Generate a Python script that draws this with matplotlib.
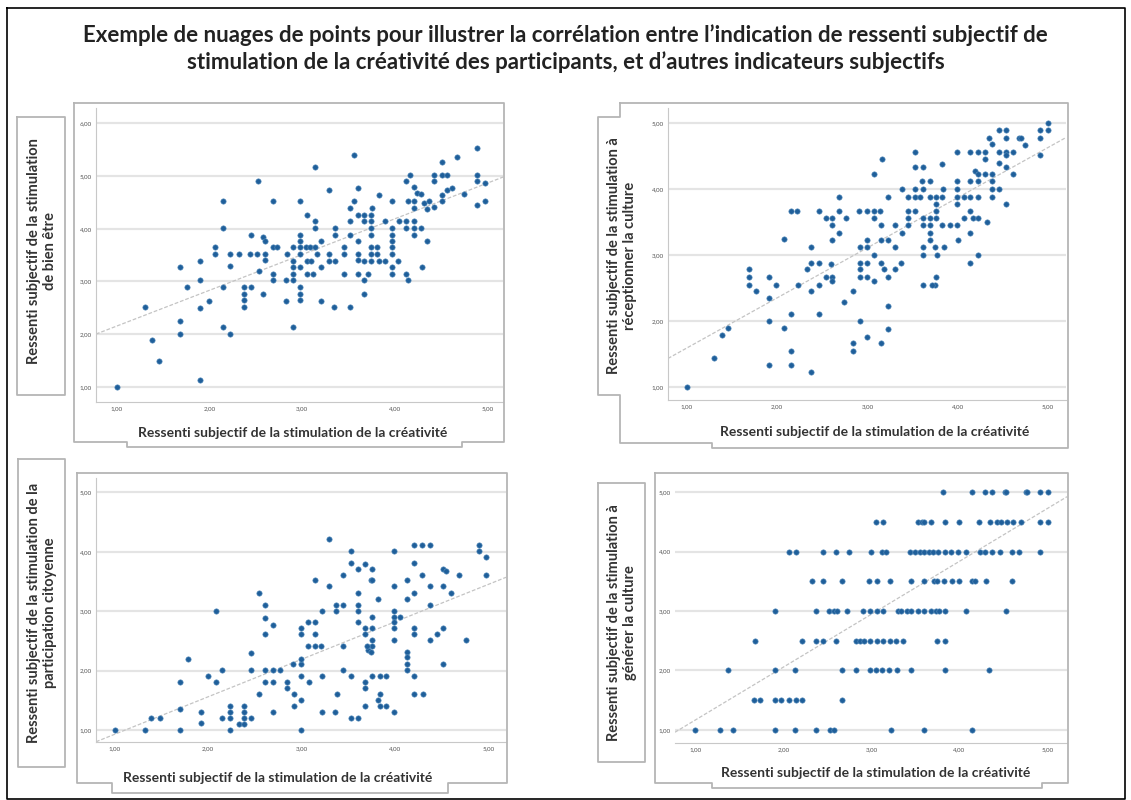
import numpy as np
import matplotlib
matplotlib.use("Agg")
import matplotlib.pyplot as plt
from matplotlib.lines import Line2D

plt.rcParams['font.family'] = ['Lato', 'DejaVu Sans']

W, H = 1131, 800

title = ("Exemple de nuages de points pour illustrer la corrélation entre l\u2019indication de ressenti subjectif de\n"
         "stimulation de la créativité des participants, et d\u2019autres indicateurs subjectifs")
xlabel = "Ressenti subjectif de la stimulation de la créativité"
ylabels = ["Ressenti subjectif de la stimulation\nde bien être",
           "Ressenti subjectif de la stimulation à\nréceptionner la culture",
           "Ressenti subjectif de la stimulation de la\nparticipation citoyenne",
           "Ressenti subjectif de la stimulation à\ngénérer la culture"]

# panel 1 : bien être
x1 = [1.00, 1.30, 1.38, 1.45, 1.68, 1.68, 1.68, 1.76, 1.90, 1.90, 1.90, 1.90, 1.99,
      2.14, 2.14, 2.06, 2.06, 2.14, 2.14, 2.22, 2.22, 2.22, 2.32, 2.37, 2.37, 2.37, 2.37,
      2.44, 2.51, 2.45, 2.45, 2.52, 2.58, 2.60, 2.60, 2.60, 2.58, 2.53, 2.68, 2.68, 2.73, 2.69, 2.69,
      2.84, 2.83, 2.90, 2.83, 2.90, 2.90, 2.90, 2.90, 2.90,
      2.98, 2.98, 2.98, 2.98, 2.98, 2.98, 2.98, 2.98, 2.98,
      3.05, 3.04, 3.09, 3.05, 3.10, 3.05, 3.12,
      3.14, 3.14, 3.14, 3.14, 3.16,
      3.20, 3.20, 3.20, 3.29, 3.29, 3.29,
      3.34, 3.52, 3.36, 3.36, 3.36, 3.45, 3.45, 3.45,
      3.52, 3.52, 3.52, 3.56, 3.56, 3.60,
      3.60, 3.60, 3.60, 3.67, 3.67, 3.60,
      3.60, 3.67, 3.74, 3.67, 3.74, 3.74, 3.74, 3.74, 3.74, 3.74, 3.67, 3.71,
      3.76, 3.81, 3.81, 3.83, 3.83, 3.90,
      3.90, 3.97, 3.97, 3.97, 3.97, 3.97, 3.97, 3.97, 3.97, 4.04,
      4.05, 4.12, 4.21, 4.12, 4.21, 4.28, 4.21, 4.12, 4.14,
      4.14, 4.21, 4.21, 4.30, 4.35,
      4.12, 4.17, 4.21, 4.24,
      4.28, 4.32, 4.35, 4.42, 4.37,
      4.42, 4.42, 4.51, 4.51, 4.57, 4.51, 4.57, 4.62, 4.51,
      4.67, 4.75,
      4.89, 4.89, 4.89, 4.98, 4.89, 4.98]
y1 = [1.00, 2.51, 1.89, 1.50, 3.28, 2.25, 2.00, 2.90, 3.39, 3.03, 2.50, 1.13, 2.63,
      4.53, 4.01, 3.66, 3.52, 2.90, 2.14, 3.52, 3.30, 2.00, 3.52, 2.90, 2.77, 2.65, 2.52,
      3.52, 3.52, 2.90, 3.89, 4.90, 3.85, 3.77, 3.52, 3.40, 2.77, 3.20, 4.53, 3.65, 3.65, 3.14, 3.03,
      3.52, 3.03, 3.03, 2.63, 2.14, 3.65, 3.39, 3.28, 3.15,
      4.53, 3.89, 3.77, 3.66, 3.53, 3.28, 2.90, 2.77, 2.65,
      4.27, 3.65, 3.65, 3.39, 3.39, 3.14, 3.14,
      5.18, 4.15, 4.01, 3.65, 3.52,
      3.77, 3.28, 2.63, 4.73, 3.39, 3.52,
      2.51, 2.51, 4.01, 3.89, 3.39, 3.65, 3.52, 3.14,
      3.89, 4.15, 4.40, 4.53, 5.40, 4.77,
      3.52, 3.40, 3.14, 2.77, 3.03, 3.77,
      4.27, 4.27, 4.27, 4.15, 4.15, 4.01, 3.89, 3.65, 3.52, 3.39, 3.39, 3.14,
      4.40, 3.65, 3.52, 4.64, 3.39, 3.39,
      4.15, 4.53, 4.01, 3.89, 3.77, 3.65, 3.52, 3.28, 3.14, 3.39,
      4.15, 4.15, 4.15, 4.01, 4.01, 4.01, 3.89, 3.14, 3.03,
      4.53, 4.53, 4.40, 3.28, 3.77,
      4.90, 5.02, 4.80, 4.67,
      4.65, 4.49, 4.37, 4.41, 4.53,
      5.02, 4.90, 5.26, 5.02, 5.02, 4.64, 4.73, 4.77, 4.53,
      5.37, 4.65,
      5.53, 5.02, 4.90, 4.86, 4.45, 4.53]

# panel 2 : réceptionner la culture
x2 = [1.00, 1.30, 1.39, 1.46, 1.69, 1.69, 1.69, 1.77,
      1.91, 1.91, 1.91, 1.91, 1.99, 2.08, 2.07,
      2.15, 2.22, 2.15, 2.15, 2.15, 2.23,
      2.33, 2.38, 2.38, 2.46, 2.38, 2.38, 2.46, 2.46, 2.46,
      2.54, 2.61, 2.61, 2.61, 2.54, 2.61, 2.61, 2.60,
      2.69, 2.69, 2.69, 2.76, 2.74, 2.84, 2.84, 2.84,
      2.91, 2.92, 2.99, 2.92, 2.99, 2.92, 2.92, 2.99, 2.99, 2.92, 3.00,
      2.99, 3.07, 3.14, 3.07, 3.07, 3.07,
      3.07, 3.16, 3.15, 3.15, 3.23, 3.15, 3.18, 3.23, 3.23, 3.23, 3.23, 3.15,
      3.30, 3.30, 3.30, 3.37, 3.38, 3.38,
      3.45, 3.45, 3.45, 3.45, 3.53, 3.53, 3.62, 3.53, 3.62, 3.53, 3.58, 3.53,
      3.62, 3.69, 3.76, 3.62, 3.69, 3.62, 3.62, 3.62, 3.60, 3.69,
      3.69, 3.76, 3.83, 3.69, 3.69, 3.76, 3.76, 3.75, 3.77, 3.75, 3.71, 3.76,
      3.83, 3.84, 3.83, 3.85, 3.91, 3.99,
      3.99, 3.99, 3.99, 3.99, 3.99, 4.00, 4.07, 4.07,
      4.14, 4.22, 4.30, 4.14, 4.22, 4.19, 4.22, 4.14, 4.22, 4.14, 4.17, 4.22, 4.14, 4.14, 4.22, 4.33,
      4.30, 4.30, 4.38, 4.46, 4.38, 4.38, 4.38, 4.35, 4.38,
      4.46, 4.53, 4.46, 4.53, 4.61, 4.46, 4.53, 4.53, 4.53, 4.61, 4.53,
      4.68, 4.70, 4.75,
      4.91, 5.00, 5.00, 4.91, 4.91]
y2 = [1.00, 1.44, 1.78, 1.89, 2.78, 2.66, 2.55, 2.45,
      2.67, 2.34, 2.00, 1.33, 2.55, 3.25, 1.89,
      3.67, 3.67, 2.11, 1.55, 1.33, 2.55,
      2.78, 3.12, 2.88, 2.88, 2.45, 1.22, 3.67, 2.55, 2.11,
      3.56, 3.56, 3.45, 3.23, 2.66, 2.66, 2.60, 2.86,
      3.88, 3.67, 3.33, 3.56, 2.29, 2.45, 1.67, 1.55,
      3.67, 3.12, 3.12, 2.88, 2.88, 2.78, 2.67, 2.67, 3.23, 2.00, 1.76,
      3.67, 3.67, 3.67, 3.56, 3.00, 2.61,
      4.23, 4.45, 3.45, 3.23, 3.23, 2.88, 2.78, 2.67, 3.88, 2.22, 1.87, 1.67,
      3.45, 3.12, 2.78, 2.88, 4.00, 3.33,
      3.88, 3.67, 3.56, 3.45, 4.56, 4.34, 4.34, 4.00, 4.00, 3.88, 3.88, 3.67,
      3.56, 3.56, 3.56, 3.45, 3.45, 3.12, 3.00, 2.55, 4.12, 4.12,
      3.88, 3.88, 3.88, 3.33, 3.23, 3.78, 3.67, 3.12, 3.00, 2.55, 2.55, 2.67,
      4.38, 4.00, 3.45, 3.12, 3.45, 3.45,
      4.56, 4.12, 4.00, 3.88, 3.78, 3.23, 3.88, 3.56,
      4.56, 4.56, 4.56, 4.12, 4.12, 4.28, 4.23, 3.88, 3.88, 3.67, 3.56, 3.56, 3.33, 2.88, 3.00, 3.50,
      4.45, 4.23, 4.00, 4.00, 4.12, 4.23, 3.88, 4.78, 4.68,
      4.89, 4.89, 4.56, 4.56, 4.56, 4.39, 4.77, 4.51, 4.33, 4.23, 3.78,
      4.77, 4.77, 4.67,
      4.89, 4.89, 5.00, 4.78, 4.51]

# panel 3 : participation citoyenne
x3 = [1.00, 1.32, 1.39, 1.48, 1.70, 1.70, 1.70, 1.78,
      1.92, 1.92, 2.00, 2.08, 2.08, 2.15,
      2.15, 2.23, 2.23, 2.23, 2.23,
      2.33, 2.38, 2.38, 2.38, 2.38, 2.46, 2.46, 2.46, 2.54,
      2.54, 2.61, 2.61, 2.61, 2.69, 2.61, 2.69, 2.77, 2.61, 2.69, 2.69,
      2.84, 2.84, 2.91, 2.99, 3.00, 2.92, 2.92, 3.00, 3.00, 3.00,
      3.00, 3.00, 3.07, 3.14, 3.14, 3.07, 3.14, 3.21, 3.08,
      3.14, 3.22, 3.30, 3.30, 3.22, 3.22, 3.36, 3.38,
      3.37, 3.45, 3.37, 3.45, 3.45, 3.53, 3.53, 3.60,
      3.45, 3.53, 3.53, 3.61, 3.68, 3.61, 3.61, 3.61, 3.61, 3.68, 3.68, 3.68, 3.68, 3.68,
      3.76, 3.74, 3.76, 3.76, 3.76, 3.71, 3.74, 3.76, 3.76, 3.70, 3.76, 3.84, 3.91, 3.84, 3.82, 3.84, 3.91, 3.82,
      3.99, 3.99, 3.99, 3.99, 3.99, 3.99, 4.06, 3.99, 3.99,
      4.13, 4.13, 4.13, 4.13, 4.13, 4.13, 4.21, 4.21, 4.30, 4.21, 4.21,
      4.21, 4.29, 4.38, 4.21, 4.29, 4.21, 4.38, 4.38, 4.38, 4.45, 4.52, 4.52,
      4.52, 4.55, 4.52, 4.60, 4.69, 4.76,
      4.90, 4.90, 4.98, 4.98]
y3 = [1.00, 1.00, 1.21, 1.21, 1.00, 1.35, 1.81, 2.20,
      1.31, 1.12, 1.91, 1.81, 3.01, 2.01,
      1.21, 1.21, 1.00, 1.40, 1.31,
      1.11, 1.11, 1.21, 1.31, 1.40, 1.21, 2.01, 2.30, 1.60,
      3.30, 3.11, 2.89, 2.62, 2.76, 2.01, 2.01, 2.01, 1.81, 1.81, 1.31,
      1.81, 1.71, 2.12, 2.12, 2.20, 1.60, 1.40, 1.50, 1.91, 1.00,
      2.72, 2.62, 2.81, 2.81, 2.62, 2.41, 2.41, 2.41, 1.81,
      3.52, 3.01, 3.42, 4.22, 1.91, 1.31, 1.31, 1.60,
      3.11, 3.11, 3.01, 2.41, 2.01, 1.91, 1.21, 1.21,
      3.61, 4.01, 3.81, 3.71, 3.79, 3.30, 3.11, 3.01, 2.81, 2.72, 2.62, 1.81, 1.71, 1.40,
      3.71, 3.52, 3.52, 2.91, 2.72, 2.34, 2.31, 2.51, 2.41, 2.41, 1.91, 1.91, 1.91, 1.60, 1.50, 1.40, 1.40, 3.21,
      4.01, 3.42, 3.01, 2.91, 2.82, 2.72, 2.91, 2.51, 1.31,
      3.52, 3.21, 2.31, 2.23, 2.12, 2.01, 1.91, 1.60, 1.60, 2.72, 2.62,
      4.12, 4.12, 4.12, 3.81, 3.61, 3.30, 3.42, 3.11, 2.51, 2.62, 2.72, 2.12,
      3.71, 3.67, 3.42, 3.30, 3.61, 2.51,
      4.12, 4.01, 3.91, 3.61]

# panel 4 : générer la culture (one list of x per answer level)
levels4 = [5.0, 4.5, 4.0, 3.5, 3.0, 2.5, 2.0, 1.5, 1.0]
x4_500 = [3.81, 4.14, 4.29, 4.37, 4.52, 4.53, 4.75, 4.77, 4.91, 5.00]
x4_450 = [3.05, 3.13, 3.53, 3.57, 3.60, 3.68, 3.83, 3.99, 4.22, 4.35, 4.42, 4.47, 4.54, 4.61, 4.70, 4.91, 5.00]
x4_400 = [2.06, 2.14, 2.45, 2.60, 2.75, 2.99, 3.12, 3.16, 3.44, 3.50, 3.55, 3.60, 3.65, 3.70, 3.75, 3.83,
          3.90, 3.98, 4.07, 4.23, 4.29, 4.37, 4.46, 4.60, 4.67, 4.91]
x4_350 = [2.32, 2.45, 2.67, 2.97, 3.06, 3.21, 3.45, 3.60, 3.71, 3.74, 3.82, 3.91, 3.99, 4.14, 4.17, 4.30, 4.60]
x4_300 = [1.91, 2.37, 2.52, 2.57, 2.61, 2.72, 2.90, 2.98, 3.06, 3.13, 3.30, 3.34, 3.40, 3.45, 3.53, 3.60,
          3.68, 3.73, 3.77, 3.83, 4.07, 4.53]
x4_250 = [1.68, 2.21, 2.37, 2.45, 2.60, 2.83, 2.87, 2.91, 2.98, 3.06, 3.13, 3.21, 3.28, 3.36, 3.74, 3.83]
x4_200 = [1.37, 1.91, 2.13, 2.67, 2.82, 2.98, 3.05, 3.12, 3.20, 3.29, 3.45, 3.83, 4.33]
x4_150 = [1.67, 1.74, 1.91, 1.97, 2.06, 2.14, 2.21, 2.67]
x4_100 = [1.00, 1.28, 1.43, 1.91, 2.13, 2.37, 2.53, 2.57, 3.22, 3.60, 4.14]
x4_rows = [x4_500, x4_450, x4_400, x4_350, x4_300, x4_250, x4_200, x4_150, x4_100]
x4 = [v for row in x4_rows for v in row]
y4 = [lv for lv, row in zip(levels4, x4_rows) for _ in row]

# droites d'ajustement (ordonnée à l'origine, pente)
fits = [(1.48, 0.677), (0.83, 0.76), (0.30, 0.63), (0.276, 0.89)]
yticks_list = [[1, 2, 3, 4, 5, 6], [1, 2, 3, 4, 5], [1, 2, 3, 4, 5], [1, 2, 3, 4, 5]]
xticks = [1, 2, 3, 4, 5]

datasets = [(x1, y1), (x2, y2), (x3, y3), (x4, y4)]

# layout in pixels (left, top, right, bottom)
ax_px = [(96, 108, 503, 402), (668, 108, 1066, 400), (96, 478, 506, 742), (675, 476, 1067, 743)]
xlims = [(0.773, 5.17), (0.79, 5.20), (0.80, 5.19), (0.77, 5.22)]
ylims = [(0.715, 6.29), (0.80, 5.23), (0.80, 5.24), (0.78, 5.27)]
xlab_pos = [(293, 433), (875, 432), (278, 778), (876, 773)]
ylab_pos = [(42, 251), (622, 256), (42, 613), (622, 623)]

fig = plt.figure(figsize=(W / 100, H / 100), dpi=100)
fig.patch.set_facecolor('white')


def fx(px):
    return px / W


def fy(py):
    return 1 - py / H


def outline(pts, color='#b5b5b5', lw=1.3):
    xs = [fx(p[0]) for p in pts]
    ys = [fy(p[1]) for p in pts]
    fig.add_artist(Line2D(xs, ys, color=color, lw=lw, solid_joinstyle='round'))


# figure border
outline([(7, 8), (1125, 8), (1125, 799), (7, 799), (7, 8)], color='black', lw=1.2)

# panel frames
outline([(74, 103), (504, 103), (504, 442), (462, 442), (462, 447), (127, 447), (127, 442), (74, 442), (74, 103)])
outline([(17, 117), (65, 117), (65, 395), (17, 395), (17, 117)])
outline([(620, 103), (1068, 103), (1068, 448), (712, 448), (712, 443), (620, 443), (620, 395),
         (598, 395), (598, 117), (620, 117), (620, 103)])
outline([(77, 473), (507, 473), (507, 783), (448, 783), (448, 793), (112, 793), (112, 783), (77, 783), (77, 473)])
outline([(18, 459), (65, 459), (65, 767), (18, 767), (18, 459)])
outline([(655, 473), (1068, 473), (1068, 783), (1042, 783), (1042, 788), (712, 788), (712, 783),
         (655, 783), (655, 473)])
outline([(598, 483), (645, 483), (645, 762), (598, 762), (598, 483)])

fig.text(0.5, fy(49), title, ha='center', va='center', fontsize=16, fontweight='bold',
         color='#222222', linespacing=1.3)

for i, (xs, ys) in enumerate(datasets):
    l, t, r, b = ax_px[i]
    ax = fig.add_axes([fx(l), fy(b), (r - l) / W, (b - t) / H])
    ax.set_xlim(*xlims[i])
    ax.set_ylim(*ylims[i])
    ax.set_yticks(yticks_list[i])
    ax.set_xticks(xticks)
    ax.set_yticklabels([f"{v:.2f}".replace('.', ',') for v in yticks_list[i]])
    ax.set_xticklabels([f"{v:.2f}".replace('.', ',') for v in xticks])
    ax.tick_params(length=0, labelsize=4.5, colors='#555555', pad=3)
    ax.grid(axis='y', color='#e4e4e4', lw=1.6)
    ax.set_axisbelow(True)
    for s in ['top', 'right']:
        ax.spines[s].set_visible(False)
    ax.spines['left'].set_color('#c8c8c8')
    ax.spines['bottom'].set_color('#c8c8c8')
    if i == 3:
        ax.spines['left'].set_visible(False)
    a, k = fits[i]
    xl = np.array(ax.get_xlim())
    ax.plot(xl, a + k * xl, ls=(0, (3, 1.5)), color='#c4c4c4', lw=0.9, zorder=1)
    ax.scatter(xs, ys, s=15, c='#1f5f9a', edgecolors='#5f93c0', linewidths=0.4, zorder=3)

    fig.text(fx(xlab_pos[i][0]), fy(xlab_pos[i][1]), xlabel, ha='center', va='center',
             fontsize=10, fontweight='bold', color='#333333')
    fig.text(fx(ylab_pos[i][0]), fy(ylab_pos[i][1]), ylabels[i], ha='center', va='center',
             rotation=90, fontsize=10.5, fontweight='bold', color='#333333', linespacing=1.25)

fig.savefig('out.png', dpi=100, facecolor='white')
